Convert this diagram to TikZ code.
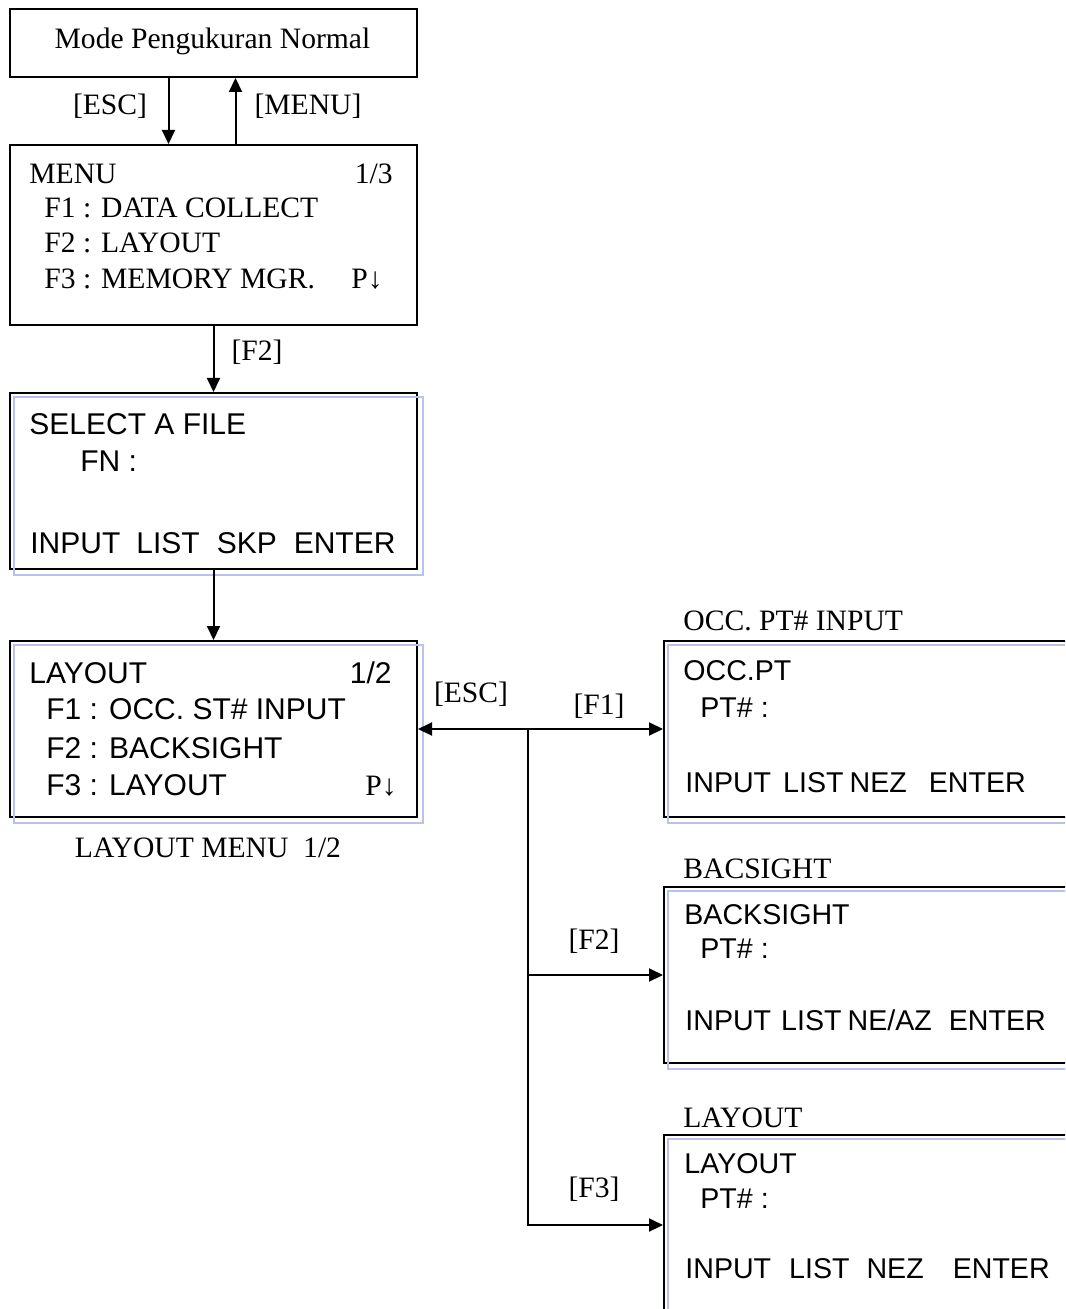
\documentclass[tikz,border=0pt]{standalone}
\usepackage{fontspec}
\setmainfont{Liberation Serif}
\setsansfont{Liberation Sans}
\usepackage{xcolor}
\usepackage{tikz}
\usetikzlibrary{calc}
\usetikzlibrary{arrows.meta}
\usetikzlibrary{positioning}
\definecolor{lavender}{RGB}{184,194,236}
\tikzset{
  screen/.style={draw, line width=1pt, rectangle, inner sep=0pt, anchor=north west},
  lcd/.style={font=\sffamily\fontsize{14.3}{16}\selectfont, anchor=base west, inner sep=0pt},
  lcdbig/.style={lcd, font=\sffamily\fontsize{15}{17}\selectfont},
  lbl/.style={font=\fontsize{14.8}{17}\selectfont, anchor=base, inner sep=0pt},
  tip/.tip={Triangle[length=7pt,width=6.5pt]},
  key/.style={line width=1pt, -tip},
}
\newcommand{\glow}[1]{\draw[lavender, line width=0.8pt]
  ($(#1.north west)+(5,5)$) rectangle ($(#1.south east)+(5,5)$);}

\begin{document}
\begin{tikzpicture}[x=0.5pt,y=-0.5pt]
  \useasboundingbox (0,0) rectangle (1065,1309);
  \clip (0,0) rectangle (1065,1309);

  % screens
  \node[screen, minimum width=203.5pt, minimum height=34pt] (mode) at (9,8) {};
  \node[screen, minimum width=203.5pt, minimum height=90pt] (menu) at (9,144) {};
  \node[screen, minimum width=203.5pt, minimum height=88pt] (sel) at (9,392) {};
  \node[screen, minimum width=203.5pt, minimum height=88pt] (lay) at (9,640) {};
  \node[screen, minimum width=210pt, minimum height=88pt] (occ) at (663,640) {};
  \node[screen, minimum width=210pt, minimum height=88pt] (back) at (663,886) {};
  \node[screen, minimum width=210pt, minimum height=90pt] (stake) at (663,1134) {};
  \foreach \n in {sel,lay,occ,back,stake}
    {\glow{\n}}

  % texts
  \node[lbl] (mode-t) at (212.5,49) {Mode Pengukuran Normal};

  \node[lbl, anchor=base west] (menu-t) at (29,184) {MENU};
  \node[lbl, anchor=base east] (menu-p) at (393,184) {1/3};
  \node[lbl, anchor=base west] (menu-1) at (44,218) {F1 : DATA COLLECT};
  \node[lbl, anchor=base west] (menu-2) at (44,253) {F2 : LAYOUT};
  \node[lbl, anchor=base west] (menu-3) at (44,289) {F3 : MEMORY MGR.};
  \node[lbl, anchor=base east] (menu-d) at (383,289) {P↓};

  \node[lcdbig] (sel-t) at (29,435) {SELECT A FILE};
  \node[lcdbig] (sel-1) at (80,472) {FN :};
  \node[lcdbig] (sel-k) at (30,553)
    {INPUT\hspace{8pt}LIST\hspace{8.5pt}SKP\hspace{8.5pt}ENTER};

  \node[lcdbig] (lay-t) at (29,683) {LAYOUT};
  \node[lcdbig, anchor=base east] (lay-p) at (392,683) {1/2};
  \node[lcdbig] (lay-1) at (46,719) {F1 : OCC. ST\# INPUT};
  \node[lcdbig] (lay-2) at (46,758) {F2 : BACKSIGHT};
  \node[lcdbig] (lay-3) at (46,795) {F3 : LAYOUT};
  \node[lbl, anchor=base east] (lay-d) at (397,795) {P↓};
  \node[lbl] (lay-c) at (208,857) {LAYOUT MENU\ \ 1/2};

  \node[lbl, anchor=base west] (occ-c) at (683,630) {OCC. PT\# INPUT};
  \node[lcd] (occ-t) at (683,680) {OCC.PT};
  \node[lcd] (occ-1) at (700,717) {PT\# :};
  \node[lcd] (occ-k) at (685,792)
    {INPUT\hspace{6pt}LIST\hspace{3pt}NEZ\hspace{11pt}ENTER};

  \node[lbl, anchor=base west] (back-c) at (683,878) {BACSIGHT};
  \node[lcd] (back-t) at (684,924) {BACKSIGHT};
  \node[lcd] (back-1) at (700,958) {PT\# :};
  \node[lcd] (back-k) at (685,1030)
    {INPUT\hspace{5pt}LIST\hspace{3pt}NE/AZ\hspace{8.5pt}ENTER};

  \node[lbl, anchor=base west] (stake-c) at (683,1127) {LAYOUT};
  \node[lcd] (stake-t) at (684,1173) {LAYOUT};
  \node[lcd] (stake-1) at (700,1208) {PT\# :};
  \node[lcd] (stake-k) at (685,1278)
    {INPUT\hspace{9pt}LIST\hspace{8.5pt}NEZ\hspace{14.5pt}ENTER};

  % keys
  \node[lbl] (k-esc) at (110,115) {[ESC]};
  \node[lbl] (k-menu) at (308,115) {[MENU]};
  \node[lbl] (k-f2) at (257,361) {[F2]};
  \node[lbl] (k-esc2) at (471,702) {[ESC]};
  \node[lbl] (k-f1) at (599,714) {[F1]};
  \node[lbl] (k-f2b) at (594,949) {[F2]};
  \node[lbl] (k-f3) at (594,1197) {[F3]};

  % arrows
  \draw[key] ($(mode.south)+(-45,0)$) -- ($(menu.north)+(-45,0)$);
  \draw[key] ($(menu.north)+(22,0)$) -- ($(mode.south)+(22,0)$);
  \draw[key] (menu.south) -- (sel.north);
  \draw[key] (sel.south) -- (lay.north);
  \draw[key, tip-tip] (lay.east) -- (occ.west);
  \coordinate (junc) at (528,728);
  \draw[key] (junc) |- (back.west);
  \draw[key] (junc) |- (stake.west);
\end{tikzpicture}
\end{document}
